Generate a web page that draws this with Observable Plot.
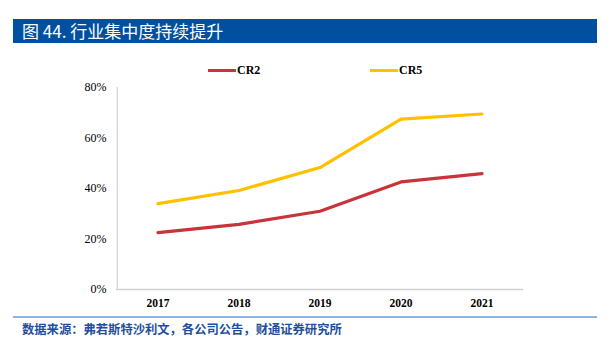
<!DOCTYPE html>
<html><head><meta charset="utf-8">
<script src="https://cdn.jsdelivr.net/npm/d3@7"></script>
<script src="https://cdn.jsdelivr.net/npm/@observablehq/plot@0.6"></script>
<style>
body{margin:0;background:#fff;width:610px;height:337px;overflow:hidden;position:relative;font-family:"Noto Sans CJK SC",sans-serif}
#title{position:absolute;left:13px;top:19px;width:584px;height:24px;background:#0050a0;color:#fff;font-size:17px;line-height:24px;padding-left:9px;box-sizing:border-box}
#rule{position:absolute;left:13px;top:316px;width:584px;height:2px;background:#8eb4e3}
#source{position:absolute;left:22px;top:322px;font-size:12.3px;line-height:14px;color:#1f4e9b;font-weight:bold;white-space:nowrap}
#chart{position:absolute;left:0;top:0}
.leg{position:absolute;top:63px;font-family:"Liberation Serif",serif;font-weight:bold;font-size:12px;line-height:14px;color:#000}
.leg span{display:inline-block;width:28px;height:3px;vertical-align:middle;margin-right:1px;position:relative;top:-1px}
</style></head><body>
<div id="chart"></div>
<div id="title">图 44. 行业集中度持续提升</div>
<div class="leg" style="left:208px"><span style="background:#c9343a"></span>CR2</div>
<div class="leg" style="left:370px"><span style="background:#ffc000"></span>CR5</div>
<div id="rule"></div>
<div id="source">数据来源：弗若斯特沙利文，各公司公告，财通证券研究所</div>
<script>
const years = ["2017","2018","2019","2020","2021"];
const cr2 = [22.5, 25.8, 31.0, 42.6, 45.9];
const cr5 = [34.0, 39.2, 48.3, 67.5, 69.5];
const yTicks = [0,20,40,60,80];
const seriesNames = ["CR2","CR5"];
const seriesColors = ["#c9343a","#ffc000"];

const data = [];
years.forEach((y,i)=>{data.push({year:y,v:cr2[i],s:"CR2"});data.push({year:y,v:cr5[i],s:"CR5"});});

const chart = Plot.plot({
  width:610, height:337,
  marginLeft:116, marginRight:87, marginTop:87, marginBottom:48,
  style:{fontFamily:"'Liberation Serif',serif",fontSize:"11px",color:"#000",background:"transparent"},
  x:{type:"band",domain:years,padding:0,label:null},
  y:{domain:[0,80],label:null},
  color:{domain:seriesNames,range:seriesColors},
  marks:[
    Plot.axisY({ticks:yTicks,tickFormat:d=>d+"%",tickSize:0,tickPadding:10,label:null,fontSize:12}),
    Plot.axisX({tickSize:0,tickPadding:9,label:null,fontWeight:"bold",fontSize:11.5}),
    Plot.ruleY([0],{stroke:"#d0d0d0",strokeWidth:1.5}),
    Plot.ruleX([0],{x:()=>years[0],dx:-40.7,stroke:"#d9d9d9",strokeWidth:1.5,y1:0,y2:80}),
    Plot.line(data,{x:"year",y:"v",z:"s",stroke:"s",strokeWidth:3.2,strokeLinejoin:"round"})
  ]
});
document.getElementById("chart").appendChild(chart);
</script>
</body></html>
